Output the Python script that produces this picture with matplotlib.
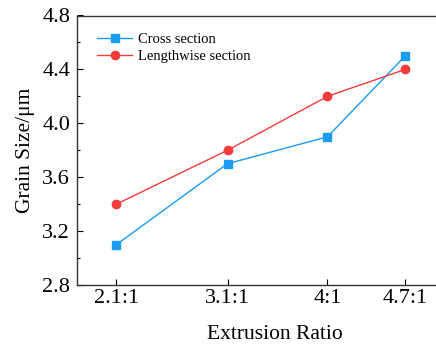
import matplotlib
matplotlib.use('Agg')
import matplotlib.pyplot as plt
from matplotlib.ticker import MultipleLocator

plt.rcParams['font.family'] = ['Liberation Serif', 'DejaVu Serif']
plt.rcParams['mathtext.fontset'] = 'stix'

ratios = [2.1, 3.1, 4.0, 4.7]
ratio_labels = ['2.1:1', '3.1:1', '4:1', '4.7:1']
cross = [3.1, 3.7, 3.9, 4.5]
lengthwise = [3.4, 3.8, 4.2, 4.4]

fig = plt.figure(figsize=(4.36, 3.5), dpi=100)
# axes runs past the right edge of the picture, as in the original
ax = fig.add_axes([77 / 436, 65 / 350, 396 / 436, 269.5 / 350])

ax.plot(ratios, cross, color='#1A9CF2', marker='s', markersize=6, linewidth=1.0, label='Cross section')
ax.plot(ratios, lengthwise, color='#F23B3B', marker='o', markersize=6, linewidth=1.0, label='Lengthwise section')

ax.set_xlim(1.745, 5.31)
ax.set_ylim(2.8, 4.8)
ax.set_xticks(ratios)
ax.set_xticklabels(ratio_labels)
ax.yaxis.set_major_locator(MultipleLocator(0.4))
ax.yaxis.set_minor_locator(MultipleLocator(0.2))
ax.yaxis.set_major_formatter(plt.FormatStrFormatter('%.1f'))
ax.tick_params(direction='in', labelsize=16, length=4, width=0.8, pad=3)
ax.tick_params(axis='y', pad=5)
ax.tick_params(which='minor', direction='in', length=2.5, width=0.8)
ax.tick_params(axis='y', right=False)
for s in ax.spines.values():
    s.set_linewidth(1.0)
    s.set_color('#333333')

ax.set_xlabel('Extrusion Ratio', fontsize=15.5, labelpad=12)
ax.set_ylabel('Grain Size/μm', fontsize=15.5, labelpad=5)

ax.legend(loc='upper left', frameon=False, fontsize=10.5, handlelength=2.4,
          handletextpad=0.4, labelspacing=0.25, bbox_to_anchor=(0.018, 0.985))

fig.savefig('out.png', dpi=100)
